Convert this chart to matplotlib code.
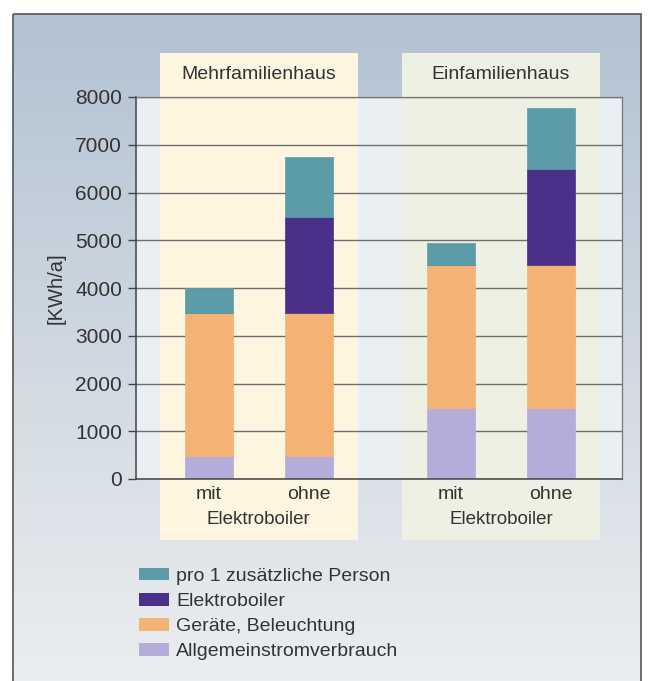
import numpy as np
import matplotlib
matplotlib.use("Agg")
import matplotlib.pyplot as plt
from matplotlib.patches import Rectangle, Patch
from matplotlib.transforms import blended_transform_factory

plt.rcParams['font.family'] = ['Liberation Sans', 'DejaVu Sans']

# data (kWh/a)
houses = ["Mehrfamilienhaus", "Einfamilienhaus"]
boiler_labels = ["mit", "ohne", "mit", "ohne"]
allgemein = [480, 480, 1490, 1490]
geraete = [3000, 3000, 3000, 2990]
elektroboiler = [0, 2000, 0, 2010]
person = [520, 1270, 460, 1290]

series = ["Allgemeinstromverbrauch", "Geräte, Beleuchtung", "Elektroboiler", "pro 1 zusätzliche Person"]
colors = ["#b4acd9", "#f4b274", "#4b3089", "#5c9ba8"]

x = np.array([0, 1, 2.425, 3.425])
width = 0.48

W, H = 656, 681
fig = plt.figure(figsize=(W / 100, H / 100), dpi=100)
fig.patch.set_facecolor("white")

# background: framed gradient box
bg = fig.add_axes([0, 0, 1, 1])
bg.set_xlim(0, W)
bg.set_ylim(H, 0)
bg.axis("off")
top_c = np.array([0xb2, 0xc2, 0xd2]) / 255
bot_c = np.array([0xec, 0xee, 0xf0]) / 255
t = np.linspace(0, 1, 256)[:, None]
grad = (top_c[None, :] * (1 - t) + bot_c[None, :] * t)[:, None, :]
bg.imshow(grad, extent=[13, 641, H + 5, 14], origin="upper", aspect="auto", zorder=0)
bg.add_patch(Rectangle((13, 14), 628, H, fill=False, ec="#555555", lw=1.2, zorder=1))

# main axes
ax = fig.add_axes([136 / W, (H - 479) / H, (622 - 136) / W, (479 - 97) / H])
ax.set_facecolor("#e9eff3")
ax.set_xlim(-0.725, 4.135)
ax.set_ylim(0, 8000)

# shaded group panels
panel_cols = ["#fdf5df", "#eef0e3"]
for g in range(2):
    cx = (x[2 * g] + x[2 * g + 1]) / 2
    ax.add_patch(Rectangle((cx - 0.99, -1280), 1.98, 8000 + 2200, fc=panel_cols[g],
                           ec="none", clip_on=False, zorder=0.1))
    ax.text(cx, 1.058, houses[g], transform=blended_transform_factory(ax.transData, ax.transAxes),
            ha="center", va="center", fontsize=14, color="#333333")
    ax.text(cx, -0.105, "Elektroboiler", transform=blended_transform_factory(ax.transData, ax.transAxes),
            ha="center", va="center", fontsize=13.5, color="#333333")

bottom = np.zeros(4)
for vals, col in zip([allgemein, geraete, elektroboiler, person], colors):
    ax.bar(x, vals, width, bottom=bottom, color=col, ec=col, lw=0.5, zorder=2)
    bottom += np.array(vals)

ax.set_axisbelow(True)
ax.set_yticks(np.arange(0, 8001, 1000))
ax.yaxis.grid(True, color="#6e6e6e", lw=1.0)
ax.tick_params(axis="y", direction="out", length=6, width=1, color="#444444",
               labelsize=15, labelcolor="#333333", pad=4)
ax.set_xticks(x)
ax.set_xticklabels(boiler_labels)
ax.tick_params(axis="x", length=0, labelsize=14, labelcolor="#333333", pad=5)
for s in ["left", "bottom"]:
    ax.spines[s].set_color("#444444")
    ax.spines[s].set_linewidth(1.1)
for s in ["top", "right"]:
    ax.spines[s].set_color("#777777")
    ax.spines[s].set_linewidth(0.9)
ax.set_ylabel("[KWh/a]", fontsize=14.5, color="#333333", labelpad=7)

handles = [Patch(fc=c, ec="none") for c in colors[::-1]]
fig.legend(handles, series[::-1], loc="upper left", bbox_to_anchor=(121 / W, 1 - 550 / H),
           frameon=False, fontsize=14, handlelength=1.55, handleheight=0.65,
           labelspacing=0.4, handletextpad=0.38, labelcolor="#333333")

fig.savefig("out.png", dpi=100)
